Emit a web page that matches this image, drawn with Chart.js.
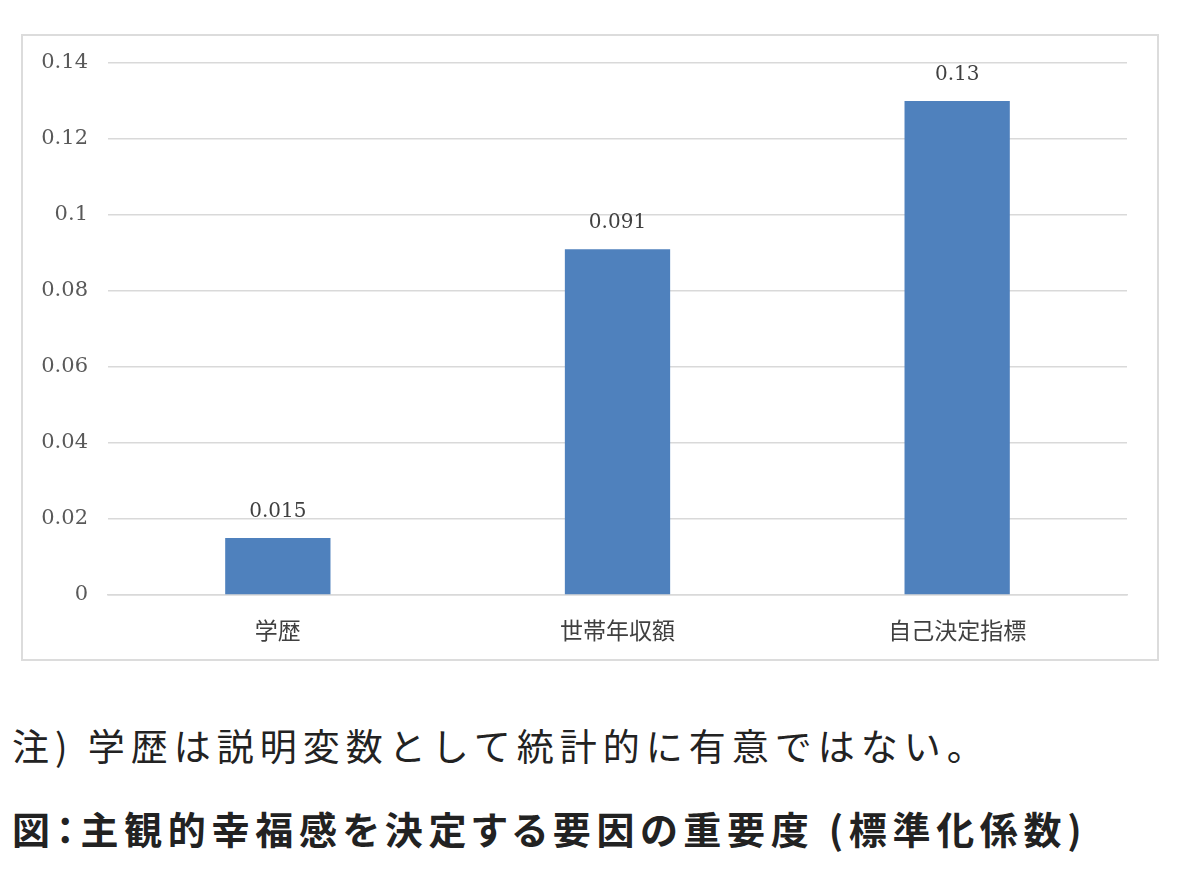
<!DOCTYPE html>
<html lang="ja">
<head>
<meta charset="utf-8">
<script src="https://cdn.jsdelivr.net/npm/chart.js@4"></script>
<style>
	body {
		margin: 0;
		background: #fff;
		width: 1179px;
		height: 874px;
		position: relative;
		font-family: 'Noto Sans CJK JP', sans-serif;
	}
	#box {
		position: absolute;
		left: 21px;
		top: 34px;
		width: 1134px;
		height: 623px;
		border: 2px solid #dcdcdc;
	}
	#note {
		position: absolute;
		left: 12px;
		top: 718px;
		font-size: 37px;
		letter-spacing: 6px;
		color: #222;
		white-space: nowrap;
	}
	#title {
		position: absolute;
		left: 12px;
		top: 800px;
		font-size: 38px;
		font-weight: bold;
		letter-spacing: 5.7px;
		font-feature-settings: 'palt';
		color: #222;
		white-space: nowrap;
	}
</style>
</head>
<body>
<div id="box"><canvas id="importance-chart" width="1134" height="623"></canvas></div>
<div id="note">注) 学歴は説明変数として統計的に有意ではない。</div>
<div id="title">図：主観的幸福感を決定する要因の重要度 (標準化係数)</div>
<script>
const categories = ['学歴', '世帯年収額', '自己決定指標'];
const coefficients = [0.015, 0.091, 0.13];
const valueLabels = ['0.015', '0.091', '0.13'];
const yTicks = [0, 0.02, 0.04, 0.06, 0.08, 0.1, 0.12, 0.14];

const gridColor = '#d9d9d9';

// draws the value above each bar
const barValues = {
	id: 'barValues',
	afterDatasetsDraw(chart) {
		const ctx = chart.ctx;
		const bars = chart.getDatasetMeta(0).data;
		ctx.save();
		ctx.font = '20px "DejaVu Serif", serif';
		ctx.fillStyle = '#404040';
		ctx.textAlign = 'center';
		ctx.textBaseline = 'middle';
		bars.forEach((bar, i) => {
			ctx.fillText(valueLabels[i], bar.x, bar.y - 26);
		});
		ctx.restore();
	},
};

function importanceChart() {
	const ctx = document.getElementById('importance-chart');

	if (!ctx) {
		return;
	}

	new Chart(ctx, {
		type: 'bar',
		data: {
			labels: categories,
			datasets: [
				{
					data: coefficients,
					backgroundColor: '#4f81bd',
					borderWidth: 0,
					categoryPercentage: 1,
					barPercentage: 0.31,
				},
			],
		},
		options: {
			responsive: false,
			animation: false,
			layout: {
				padding: { left: 15, right: 30, top: 27, bottom: 0 },
			},
			plugins: {
				legend: {
					display: false,
				},
				tooltip: {
					enabled: false,
				},
			},
			scales: {
				y: {
					min: 0,
					max: 0.14,
					afterBuildTicks: (scale) => {
						scale.ticks = yTicks.map((v) => ({ value: v }));
					},
					afterFit: (scale) => {
						scale.width = 70;
						// label padding is horizontal only here
						scale.paddingTop = 0;
						scale.paddingBottom = 0;
					},
					border: {
						display: false,
					},
					grid: {
						color: gridColor,
						lineWidth: 1.5,
						drawTicks: false,
					},
					ticks: {
						padding: 20,
						color: '#595959',
						font: { family: '"DejaVu Serif", serif', size: 21 },
						callback: (v) => String(v),
					},
				},
				x: {
					afterFit: (scale) => {
						scale.height = 64;
					},
					border: {
						color: gridColor,
						width: 1.5,
					},
					grid: {
						display: false,
						drawTicks: false,
					},
					ticks: {
						padding: 21,
						color: '#404040',
						font: { family: '"Noto Sans CJK JP", sans-serif', size: 23 },
					},
				},
			},
		},
		plugins: [barValues],
	});
}

importanceChart();
</script>
</body>
</html>
